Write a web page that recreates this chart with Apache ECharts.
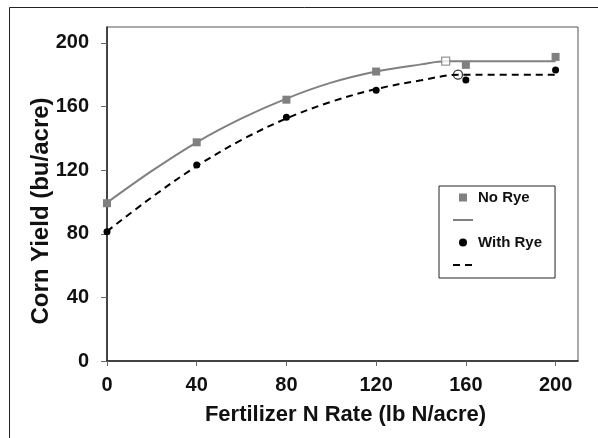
<!DOCTYPE html>
<html>
<head>
<meta charset="utf-8">
<script src="https://cdn.jsdelivr.net/npm/echarts@6/dist/echarts.min.js"></script>
<style>
html,body{margin:0;padding:0;background:#fff;}
#chart{width:598px;height:438px;}
</style>
</head>
<body>
<div id="chart"></div>
<script>
// ---- data ----
var nRates = [0, 40, 80, 120, 160, 200];
var noRyeYield = [99.2, 137.5, 164.3, 182, 186.2, 191.2];
var withRyeYield = [81.3, 123.3, 153.3, 170.3, 176.7, 183];

// fitted quadratic-plateau curves
var noRyeFitX = [0, 20, 40, 60, 80, 100, 120, 140, 151, 200];
var noRyeFitY = [99.5, 119.5, 137.5, 152.5, 165, 175, 182, 186.5, 188.5, 188.5];
var withRyeFitX = [0, 20, 40, 60, 80, 100, 120, 140, 157, 200];
var withRyeFitY = [81.5, 103, 122.5, 139, 152.5, 163, 171, 176.5, 180, 180];

// join points (open markers)
var noRyeJoint = [151, 188.5];
var withRyeJoint = [156.5, 180];

var xTicks = [0, 40, 80, 120, 160, 200];
var yTicks = [0, 40, 80, 120, 160, 200];

function pairs(xs, ys) { return xs.map(function (x, i) { return [x, ys[i]]; }); }

var GRAY = '#808080';
var FONT = 'Liberation Sans, Arial, sans-serif';

var chart = echarts.init(document.getElementById('chart'), null, {renderer: 'canvas'});
chart.setOption({
  animation: false,
  backgroundColor: '#fff',
  graphic: [{
    type: 'rect', left: 7, top: 5, z: -10,
    shape: {x: 0, y: 0, width: 700, height: 600},
    style: {fill: 'none', stroke: '#222', lineWidth: 1}
  }],
  grid: {left: 107, right: 20, top: 27, bottom: 77, show: true, borderColor: '#555', borderWidth: 1},
  legend: {
    orient: 'vertical', left: 439, top: 186,
    padding: [4, 13, 9, 13],
    borderColor: '#222', borderWidth: 1, backgroundColor: '#fff',
    itemWidth: 20, itemHeight: 10, itemGap: 11,
    textStyle: {fontFamily: FONT, fontWeight: 'bold', fontSize: 15, lineHeight: 15, color: '#111'},
    formatter: function (n) { return n.indexOf('fit') >= 0 ? '' : n; },
    data: [
      {name: 'No Rye', lineStyle: {opacity: 0, width: 0}},
      {name: 'No Rye fit', itemStyle: {opacity: 0}},
      {name: 'With Rye', lineStyle: {opacity: 0, width: 0}},
      {name: 'With Rye fit', itemStyle: {opacity: 0}}
    ]
  },
  xAxis: {
    type: 'value', min: 0, max: 210,
    name: 'Fertilizer N Rate (lb N/acre)', nameLocation: 'middle', nameGap: 43,
    nameMoveOverlap: false,
    nameTextStyle: {fontFamily: FONT, fontWeight: 'bold', fontSize: 22, color: '#111', padding: [0, 0, 0, 6]},
    axisLine: {show: true, lineStyle: {color: '#222', width: 1.5}},
    axisTick: {show: true, length: 5, lineStyle: {color: '#666'}, customValues: xTicks},
    axisLabel: {fontFamily: FONT, fontWeight: 'bold', fontSize: 20, color: '#111', margin: 14, customValues: xTicks},
    splitLine: {show: false}
  },
  yAxis: {
    type: 'value', min: 0, max: 210,
    name: 'Corn Yield (bu/acre)', nameLocation: 'middle', nameGap: 54, nameRotate: 90,
    nameMoveOverlap: false,
    nameTextStyle: {fontFamily: FONT, fontWeight: 'bold', fontSize: 24, color: '#111', padding: [0, 34, 0, 0]},
    axisLine: {show: true, lineStyle: {color: '#222', width: 1.5}},
    axisTick: {show: true, length: 6, lineStyle: {color: '#666'}, customValues: yTicks},
    axisLabel: {fontFamily: FONT, fontWeight: 'bold', fontSize: 20, color: '#111', margin: 18, customValues: yTicks},
    splitLine: {show: false}
  },
  series: [
    {
      name: 'No Rye fit', type: 'line', data: pairs(noRyeFitX, noRyeFitY),
      smooth: 0.35, symbol: 'none', z: 2,
      itemStyle: {color: GRAY}, lineStyle: {color: GRAY, width: 2}
    },
    {
      name: 'With Rye fit', type: 'line', data: pairs(withRyeFitX, withRyeFitY),
      smooth: 0.35, symbol: 'none', z: 2,
      itemStyle: {color: '#000'}, lineStyle: {color: '#000', width: 2, type: [7, 5]}
    },
    {
      name: 'No Rye', type: 'line', data: pairs(nRates, noRyeYield),
      symbol: 'rect', symbolSize: 8, showAllSymbol: true, z: 4,
      itemStyle: {color: GRAY}, lineStyle: {width: 0, opacity: 0}
    },
    {
      name: 'With Rye', type: 'line', data: pairs(nRates, withRyeYield),
      symbol: 'circle', symbolSize: 7, showAllSymbol: true, z: 4,
      itemStyle: {color: '#000'}, lineStyle: {width: 0, opacity: 0}
    },
    {
      name: 'joints', type: 'scatter', z: 5,
      data: [
        {value: noRyeJoint, symbol: 'rect', symbolSize: 8,
         itemStyle: {color: '#fff', borderColor: GRAY, borderWidth: 1.3}},
        {value: withRyeJoint, symbol: 'circle', symbolSize: 9,
         itemStyle: {color: 'rgba(255,255,255,0)', borderColor: '#000', borderWidth: 1.3}}
      ]
    }
  ]
});
</script>
</body>
</html>
